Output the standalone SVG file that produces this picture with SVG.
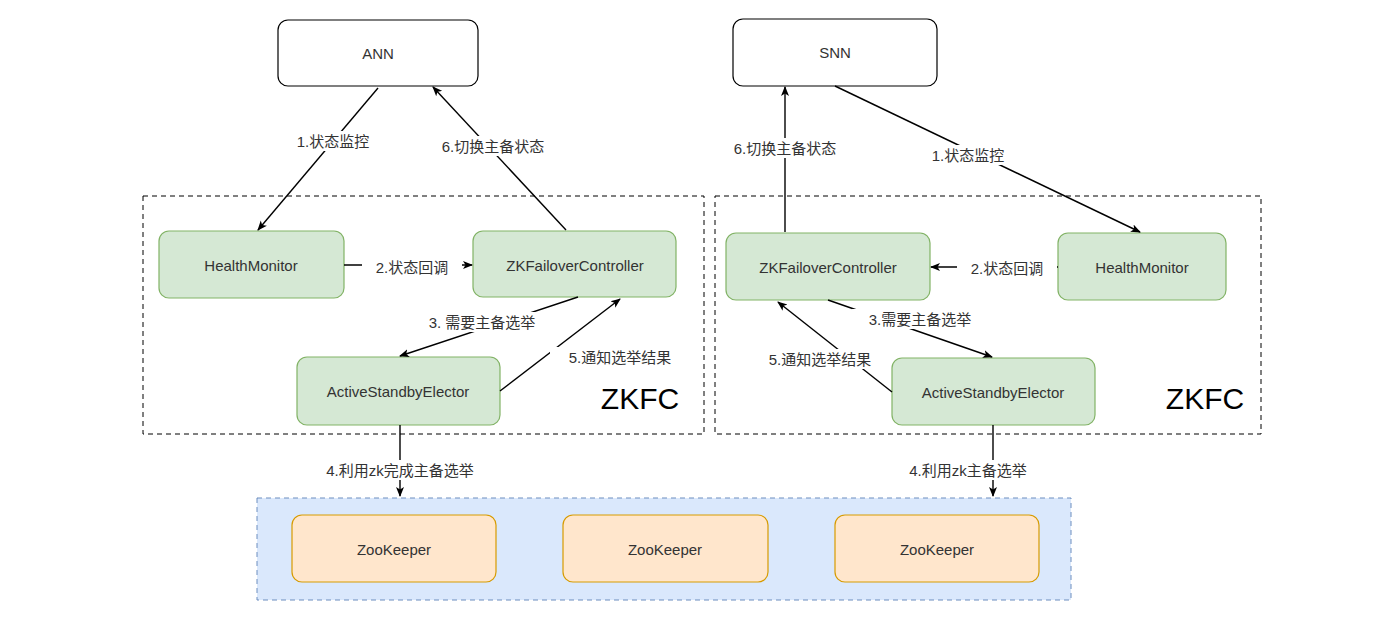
<svg xmlns="http://www.w3.org/2000/svg" width="1392" height="634" viewBox="0 0 1392 634">
<defs>
<marker id="a" markerWidth="10" markerHeight="10" refX="9" refY="5" orient="auto" markerUnits="userSpaceOnUse"><path d="M0,1 L10,5 L0,9 L2.5,5 Z" fill="#000"/></marker>
<style>
text{font-family:"Liberation Sans","Noto Sans CJK SC",sans-serif;font-size:15px;fill:#333;text-anchor:middle;dominant-baseline:central}
.nn{fill:#fff;stroke:#000;stroke-width:1.2}
.g{fill:#d5e8d4;stroke:#82b366;stroke-width:1.2}
.o{fill:#ffe6cc;stroke:#d79b00;stroke-width:1.2}
.c line{stroke:#000;stroke-width:1.4;marker-end:url(#a)}
.bg{fill:#fff}
.big{font-size:30px;fill:#000}
</style>
</defs>
<rect width="1392" height="634" fill="#fff"/>
<rect x="143" y="196" width="561" height="238" fill="none" stroke="#000" stroke-dasharray="5,4"/>
<rect x="715" y="196" width="546" height="238" fill="none" stroke="#000" stroke-dasharray="5,4"/>
<text class="big" x="640" y="398">ZKFC</text>
<text class="big" x="1205" y="398">ZKFC</text>
<g id="zkgroup"><rect x="257" y="498" width="814" height="102" fill="#dae8fc" stroke="#6c8ebf" stroke-dasharray="5,4"/></g>
<g id="ann"><rect class="nn" x="278" y="20" width="200" height="66" rx="10"/><text x="378" y="53">ANN</text></g>
<g id="snn"><rect class="nn" x="733" y="19" width="204" height="67" rx="10"/><text x="835" y="52">SNN</text></g>
<g id="hmL"><rect class="g" x="159" y="231" width="185" height="67" rx="10"/><text x="251" y="265">HealthMonitor</text></g>
<g id="zkfcL"><rect class="g" x="473" y="231" width="203" height="66" rx="10"/><text x="575" y="265">ZKFailoverController</text></g>
<g id="aseL"><rect class="g" x="297" y="357" width="203" height="68" rx="10"/><text x="398" y="391">ActiveStandbyElector</text></g>
<g id="zkfcR"><rect class="g" x="726" y="233" width="204" height="67" rx="10"/><text x="828" y="267">ZKFailoverController</text></g>
<g id="hmR"><rect class="g" x="1058" y="233" width="168" height="67" rx="10"/><text x="1142" y="267">HealthMonitor</text></g>
<g id="aseR"><rect class="g" x="892" y="358" width="203" height="67" rx="10"/><text x="993" y="392">ActiveStandbyElector</text></g>
<g id="zk1"><rect class="o" x="292" y="515" width="204" height="67" rx="10"/><text x="394" y="549">ZooKeeper</text></g>
<g id="zk2"><rect class="o" x="563" y="515" width="205" height="67" rx="10"/><text x="665" y="549">ZooKeeper</text></g>
<g id="zk3"><rect class="o" x="835" y="515" width="204" height="67" rx="10"/><text x="937" y="549">ZooKeeper</text></g>
<g id="connectors" class="c">
<line x1="378" y1="88" x2="258" y2="230"/>
<line x1="566" y1="230" x2="433" y2="87"/>
<line x1="344" y1="265" x2="472" y2="265"/>
<line x1="578" y1="297" x2="400" y2="356"/>
<line x1="500" y1="391" x2="620" y2="299"/>
<line x1="400" y1="425" x2="400" y2="496"/>
<line x1="835" y1="86" x2="1140" y2="232"/>
<line x1="785" y1="232" x2="785" y2="87"/>
<line x1="1058" y1="267" x2="931" y2="267"/>
<line x1="828" y1="300" x2="992" y2="357"/>
<line x1="892" y1="392" x2="778" y2="302"/>
<line x1="993" y1="425" x2="993" y2="496"/>
</g>
<g id="labels">
<rect class="bg" x="283" y="131" width="100" height="20"/><text x="333" y="141">1.状态监控</text>
<rect class="bg" x="428" y="136" width="130" height="20"/><text x="493" y="146">6.切换主备状态</text>
<rect class="bg" x="362" y="257" width="100" height="20"/><text x="412" y="267">2.状态回调</text>
<rect class="bg" x="414" y="312" width="136" height="20"/><text x="482" y="322">3. 需要主备选举</text>
<rect class="bg" x="550" y="347" width="140" height="20"/><text x="620" y="357">5.通知选举结果</text>
<rect class="bg" x="310" y="460" width="180" height="20"/><text x="400" y="470">4.利用zk完成主备选举</text>
<rect class="bg" x="918" y="145" width="100" height="20"/><text x="968" y="155">1.状态监控</text>
<rect class="bg" x="720" y="138" width="130" height="20"/><text x="785" y="148">6.切换主备状态</text>
<rect class="bg" x="957" y="258" width="100" height="20"/><text x="1007" y="268">2.状态回调</text>
<rect class="bg" x="852" y="309" width="136" height="20"/><text x="920" y="319">3.需要主备选举</text>
<rect class="bg" x="750" y="349" width="140" height="20"/><text x="820" y="359">5.通知选举结果</text>
<rect class="bg" x="896" y="460" width="144" height="20"/><text x="968" y="470">4.利用zk主备选举</text>
</g>
</svg>
